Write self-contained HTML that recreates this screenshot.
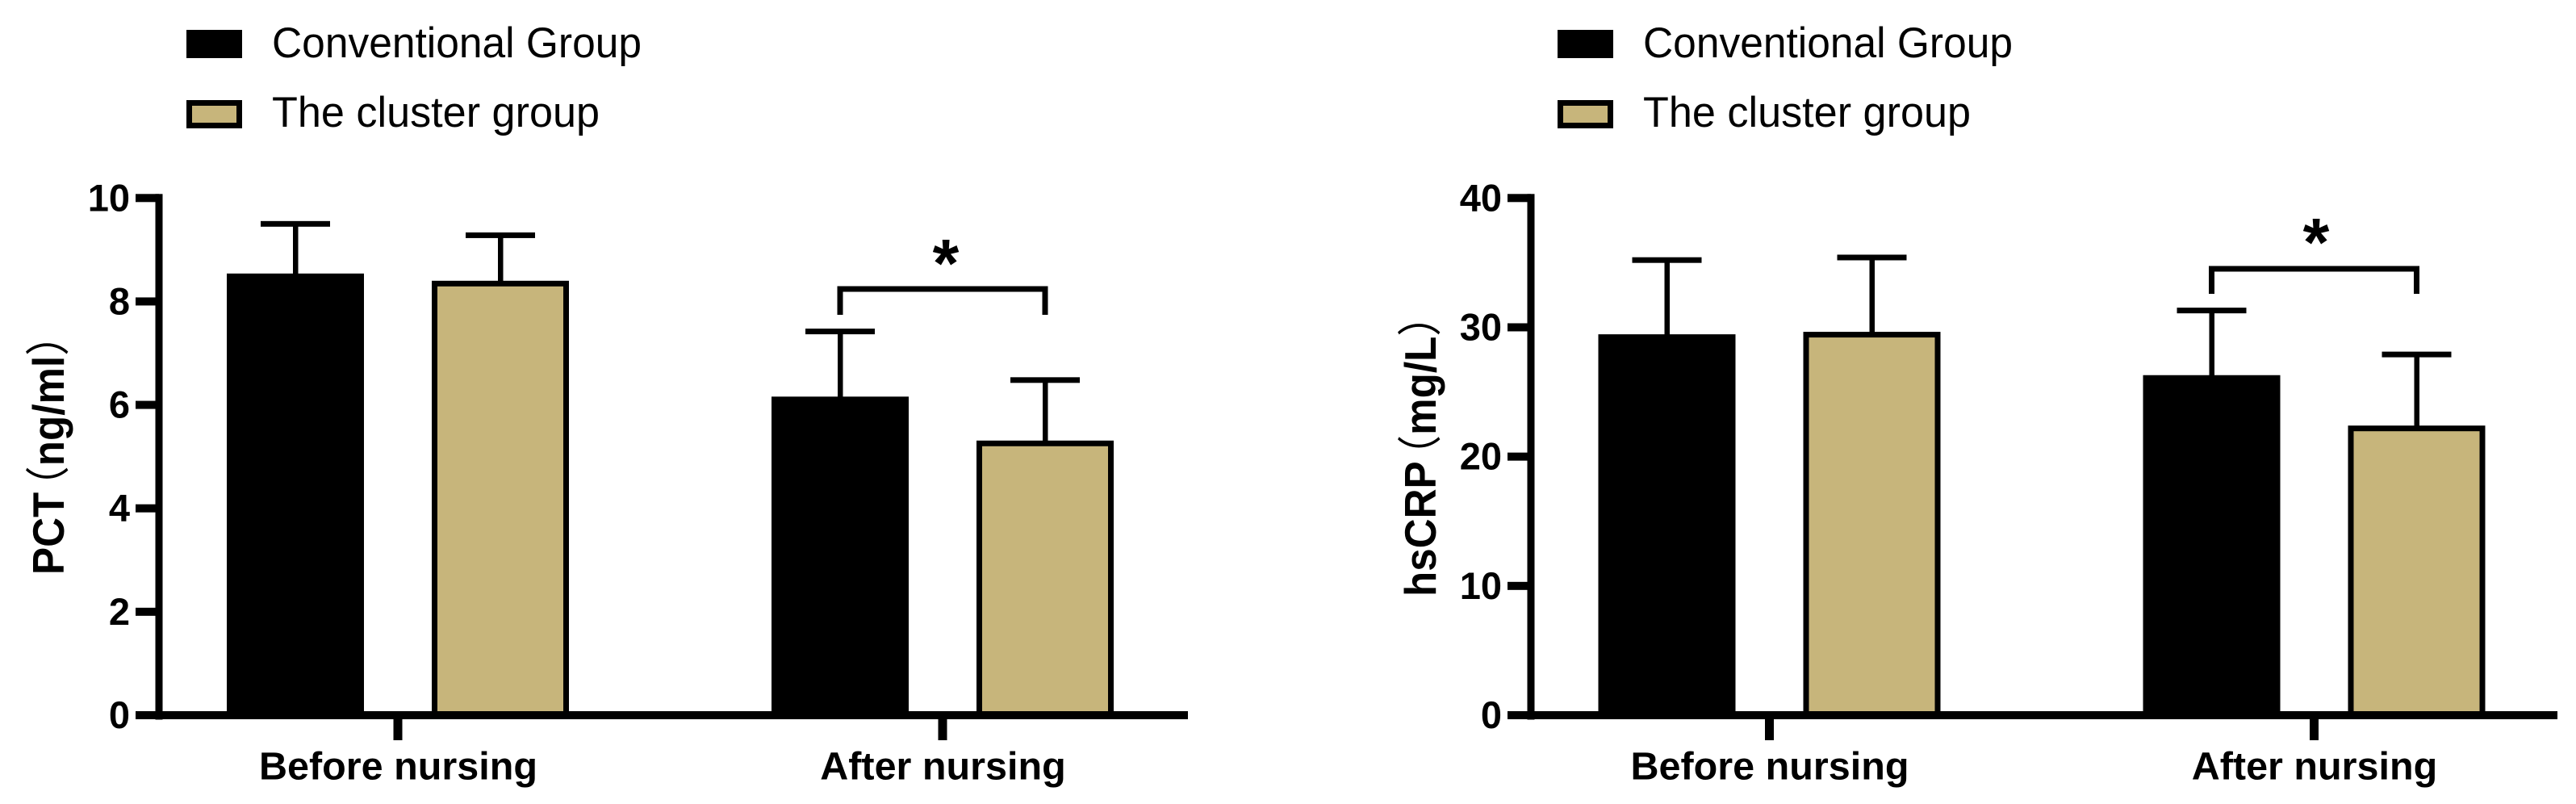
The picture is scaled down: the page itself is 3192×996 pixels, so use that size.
<!DOCTYPE html>
<html lang="en">
<head>
<meta charset="utf-8">
<title>PCT and hsCRP before and after nursing</title>
<style>
html,body{margin:0;padding:0;background:#fff;}
svg{display:block;}
text{font-family:"Liberation Sans","Noto Sans CJK SC",sans-serif;fill:#000;}
</style>
</head>
<body>
<svg id="figure" xmlns="http://www.w3.org/2000/svg" width="3192" height="996" viewBox="0 0 3192 996"></svg>
<script>
const categories = ['Before nursing', 'After nursing'];
const seriesNames = ['Conventional Group', 'The cluster group'];
const pctTicks = [0, 2, 4, 6, 8, 10];
const pctConventional = [8.54, 6.16];
const pctConventionalUpper = [9.5, 7.42];
const pctCluster = [8.40, 5.31];
const pctClusterUpper = [9.28, 6.48];
const hsCrpTicks = [0, 10, 20, 30, 40];
const hsCrpConventional = [29.46, 26.3];
const hsCrpConventionalUpper = [35.2, 31.3];
const hsCrpCluster = [29.65, 22.4];
const hsCrpClusterUpper = [35.4, 27.9];

const NS = 'http://www.w3.org/2000/svg';
const root = document.getElementById('figure');
const TAN = '#c7b57b';
const LW = 10, ST = 7;

function el(tag, attrs, parent) {
  const n = document.createElementNS(NS, tag);
  for (const k in attrs) n.setAttribute(k, attrs[k]);
  parent.appendChild(n);
  return n;
}

function drawPanel(cfg) {
  const g = el('g', {}, root);
  
  

  const yScale = v => cfg.y0 - (v / cfg.yMax) * (cfg.y0 - cfg.yTop);
  const catX = i => cfg.cat0 + i * 675;
  const seriesOffset = s => (s === 0 ? -127 : 127);
  const barW = 170, capW = 86;

  // legend
  seriesNames.forEach((name, s) => {
    const top = s === 0 ? 37 : 124;
    const sw = el('rect', {
      x: cfg.legendX + (s === 0 ? 0 : ST / 2), y: top + (s === 0 ? 0 : ST / 2),
      width: s === 0 ? 69 : 69 - ST, height: s === 0 ? 35 : 35 - ST,
      fill: s === 0 ? '#000' : TAN, stroke: '#000', 'stroke-width': s === 0 ? 0 : ST
    }, g);
    
    
    const t = el('text', {
      x: cfg.legendX + 106, y: s === 0 ? 71 : 157, 'font-size': 53,
      textLength: s === 0 ? 458 : 406, lengthAdjust: 'spacingAndGlyphs'
    }, g);
    t.textContent = name;
    
    
  });

  // bars + error bars
  cfg.series.forEach((ser, s) => {
    ser.values.forEach((v, i) => {
      const cx = catX(i) + seriesOffset(s);
      const yTopBar = yScale(v), yUp = yScale(ser.upper[i]);
      const stem = el('rect', {x: cx - 3, y: yUp, width: 6.5, height: yTopBar - yUp + 2, fill: '#000'}, g);
      
      
      const cap = el('rect', {x: cx - capW / 2, y: yUp - ST / 2, width: capW, height: ST, fill: '#000'}, g);
      
      
      const bar = s === 0
        ? el('rect', {x: cx - barW / 2, y: yTopBar, width: barW, height: cfg.y0 - yTopBar, fill: '#000'}, g)
        : el('rect', {x: cx - barW / 2 + ST / 2, y: yTopBar + ST / 2, width: barW - ST, height: cfg.y0 - yTopBar - ST / 2, fill: TAN, stroke: '#000', 'stroke-width': ST}, g);
      
      
    });
  });

  // y axis
  const yLine = el('rect', {x: cfg.axisX - LW / 2 + 0.5, y: yScale(cfg.yMax) - LW / 2, width: LW - 1, height: cfg.y0 - yScale(cfg.yMax) + LW + 0.5, fill: '#000'}, g);
  
  
  cfg.ticks.forEach(v => {
    const y = yScale(v);
    const tk = el('rect', {x: cfg.axisX - 29, y: y - LW / 2, width: 29, height: LW, fill: '#000'}, g);
    
    
    const lb = el('text', {x: cfg.axisX - 36, y: y + 16, 'font-size': 47, 'font-weight': 700, 'text-anchor': 'end'}, g);
    lb.textContent = String(v);
    
    
  });

  // x axis
  const xLine = el('rect', {x: cfg.axisX, y: cfg.y0 - LW / 2, width: cfg.axisEnd - cfg.axisX, height: LW, fill: '#000'}, g);
  
  
  categories.forEach((c, i) => {
    const tk = el('rect', {x: catX(i) - 5.5, y: cfg.y0, width: 11, height: 31, fill: '#000'}, g);
    
    
    const lb = el('text', {x: catX(i) + 0.5, y: 965.5, 'font-size': 48.5, 'font-weight': 700, 'text-anchor': 'middle'}, g);
    lb.textContent = c;
    
    
  });

  // significance bracket
  const bl = catX(1) - 127, br = catX(1) + 127;
  const path = el('path', {
    d: 'M' + bl + ' ' + cfg.bracketBottom + 'V' + cfg.bracketY + 'H' + br + 'V' + cfg.bracketBottom,
    fill: 'none', stroke: '#000', 'stroke-width': ST
  }, g);
  
  
  const star = el('text', {x: cfg.starX, y: cfg.starY, 'font-size': 84, 'font-weight': 700, 'text-anchor': 'middle'}, g);
  star.textContent = '*';
  
  

  // y title
  const title = el('text', {
    transform: 'translate(' + cfg.titleX + ' ' + cfg.titleY + ') rotate(-90) scale(0.93 1)',
    x: 0, y: 0, 'font-size': 55, 'font-weight': 700
  }, g);
  
  
  const a = el('tspan', {}, title);
  a.textContent = cfg.titleMain;
  const b = el('tspan', {dx: -20, 'font-weight': 400}, title);
  b.textContent = '（';
  const c = el('tspan', {}, title);
  c.textContent = cfg.titleUnit;
  const d = el('tspan', {'font-weight': 400}, title);
  d.textContent = '）';
}

drawPanel({
  key: 'pct', y0: 886, yTop: 245.3, yMax: 10, axisX: 197, axisEnd: 1472, cat0: 493,
  legendX: 231, ticks: pctTicks,
  series: [{values: pctConventional, upper: pctConventionalUpper}, {values: pctCluster, upper: pctClusterUpper}],
  bracketY: 358, bracketBottom: 390, starX: 1172, starY: 355,
  titleX: 79, titleY: 712, titleMain: 'PCT', titleUnit: 'ng/ml'
});
drawPanel({
  key: 'hscrp', y0: 886, yTop: 245.3, yMax: 40, axisX: 1897, axisEnd: 3169, cat0: 2192.5,
  legendX: 1930, ticks: hsCrpTicks,
  series: [{values: hsCrpConventional, upper: hsCrpConventionalUpper}, {values: hsCrpCluster, upper: hsCrpClusterUpper}],
  bracketY: 333, bracketBottom: 364, starX: 2870, starY: 329,
  titleX: 1779, titleY: 739, titleMain: 'hsCRP', titleUnit: 'mg/L'
});
</script>
</body>
</html>
